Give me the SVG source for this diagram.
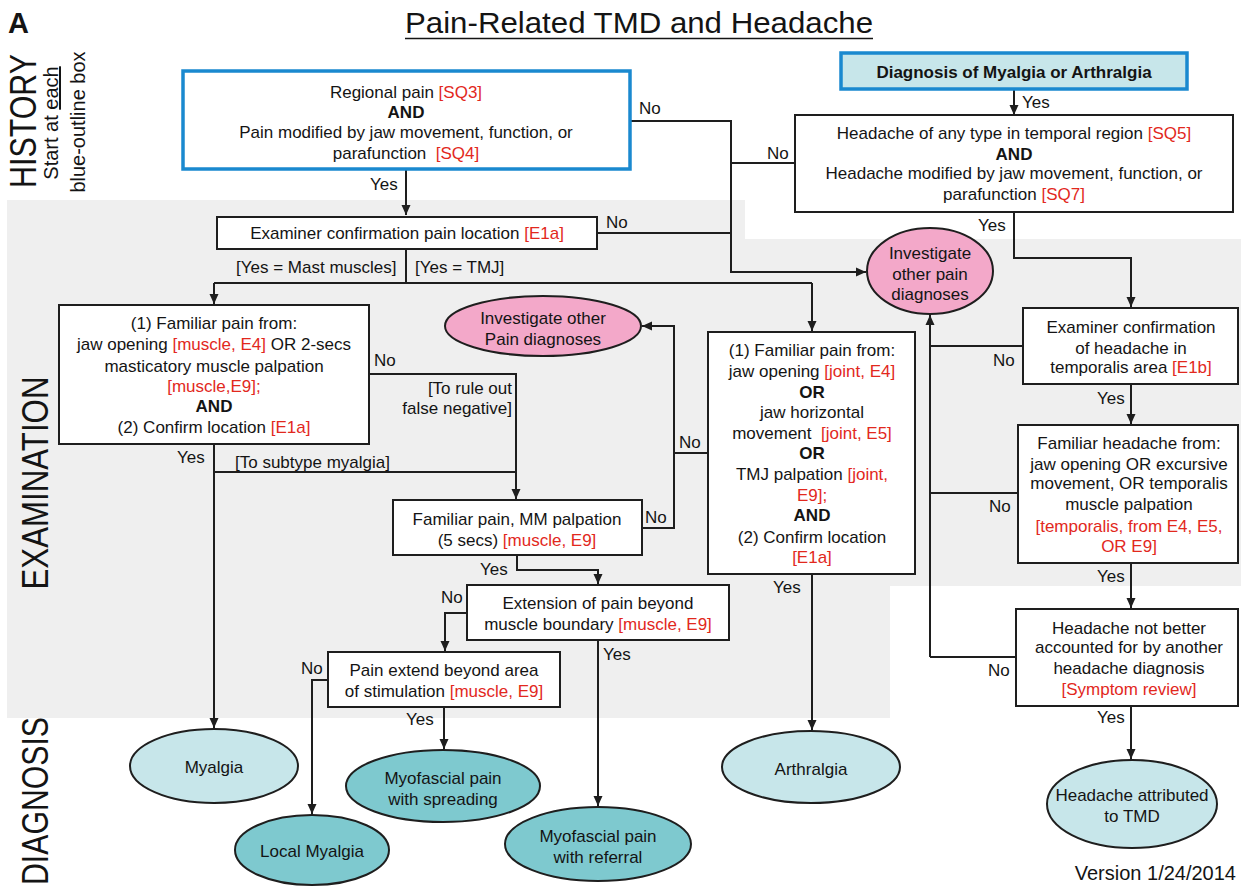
<svg xmlns="http://www.w3.org/2000/svg" width="1241" height="886" viewBox="0 0 1241 886">
<style>
text{font-family:"Liberation Sans",Arial,Helvetica,sans-serif;fill:#141414}
.t{font-size:17px;text-anchor:middle}
.l{font-size:17px}
.r{fill:#e2281d}
.b{font-weight:bold}
.box{fill:#fff;stroke:#1e1e1e;stroke-width:2}
.hb{fill:#fff;stroke:#1a89cf;stroke-width:3.5}
.pink{fill:#f3a8c9;stroke:#1e1e1e;stroke-width:2}
.lb{fill:#c7e6ea;stroke:#1e1e1e;stroke-width:2}
.tl{fill:#7ec9cf;stroke:#1e1e1e;stroke-width:2}
.c{fill:none;stroke:#1e1e1e;stroke-width:2}
.a{marker-end:url(#arr)}
.side{font-size:37px;text-anchor:middle}
.sub{font-size:20px;text-anchor:middle}
</style>
<defs>
<marker id="arr" markerUnits="userSpaceOnUse" markerWidth="11" markerHeight="10" refX="10" refY="5" orient="auto">
<path d="M0,0.5 L10,5 L0,9.5 Z" fill="#1e1e1e"/>
</marker>
</defs>
<rect width="1241" height="886" fill="#fff"/>
<path d="M7 200 H745 V239 H1241 V586 H890 V718 H7 Z" fill="#efefef"/>

<g id="headings">
<text x="8" y="33" font-size="29" font-weight="bold">A</text>
<text x="639" y="33" font-size="30" text-anchor="middle" textLength="468" lengthAdjust="spacingAndGlyphs">Pain-Related TMD and Headache</text>
<line x1="405" y1="38.5" x2="873" y2="38.5" stroke="#141414" stroke-width="1.6"/>
<text class="side" transform="translate(36,121) rotate(-90)" textLength="134" lengthAdjust="spacingAndGlyphs">HISTORY</text>
<text class="sub" transform="translate(58,123) rotate(-90)">Start at <tspan text-decoration="underline">each</tspan></text>
<text class="sub" transform="translate(85,122) rotate(-90)">blue-outline box</text>
<text class="side" transform="translate(48,483) rotate(-90)" textLength="213" lengthAdjust="spacingAndGlyphs">EXAMINATION</text>
<text class="side" transform="translate(48,801) rotate(-90)" textLength="168" lengthAdjust="spacingAndGlyphs">DIAGNOSIS</text>
<text x="1236" y="880" font-size="20" text-anchor="end">Version 1/24/2014</text>
</g>

<g id="connectors">
<path class="c a" d="M406 169 V215"/>
<path class="c a" d="M630 121 H731 V272 H866"/>
<path class="c" d="M597 233 H731"/>
<path class="c" d="M795 163 H731"/>
<path class="c a" d="M1014 89 V115"/>
<path class="c a" d="M1014 212 V258 H1131 V307"/>
<path class="c" d="M406 249 V283 M214 283 H812"/>
<path class="c a" d="M214 283 V304"/>
<path class="c a" d="M812 283 V331"/>
<path class="c a" d="M369 374 H516 V499"/>
<path class="c a" d="M214 444 V728"/>
<path class="c" d="M214 472 H516"/>
<path class="c a" d="M642 528 H674 V326 H642"/>
<path class="c" d="M708 453 H674"/>
<path class="c a" d="M517 555 V570 H598 V584"/>
<path class="c a" d="M467 613 H445 V651"/>
<path class="c a" d="M598 640 V806"/>
<path class="c a" d="M328 680 H312 V814"/>
<path class="c a" d="M444 707 V749"/>
<path class="c a" d="M812 574 V730"/>
<path class="c a" d="M930 657 V315"/>
<path class="c" d="M1023 346 H930 M1018 493 H930 M1016 657 H930"/>
<path class="c a" d="M1131 384 V424"/>
<path class="c a" d="M1131 563 V608"/>
<path class="c a" d="M1131 706 V759"/>
</g>

<g id="edge-labels" class="l">
<text x="370" y="190">Yes</text>
<text x="606" y="228">No</text>
<text x="639" y="114">No</text>
<text x="767" y="159">No</text>
<text x="1022" y="108">Yes</text>
<text x="978" y="231">Yes</text>
<text x="236" y="273">[Yes = Mast muscles]</text>
<text x="415" y="273">[Yes = TMJ]</text>
<text x="374" y="366">No</text>
<text x="512" y="394" text-anchor="end">[To rule out</text>
<text x="512" y="414" text-anchor="end">false negative]</text>
<text x="177" y="463">Yes</text>
<text x="235" y="468">[To subtype myalgia]</text>
<text x="679" y="448">No</text>
<text x="645" y="523">No</text>
<text x="480" y="575">Yes</text>
<text x="441" y="603">No</text>
<text x="603" y="660">Yes</text>
<text x="301" y="674">No</text>
<text x="406" y="725">Yes</text>
<text x="773" y="593">Yes</text>
<text x="993" y="366">No</text>
<text x="989" y="512">No</text>
<text x="988" y="676">No</text>
<text x="1097" y="404">Yes</text>
<text x="1097" y="582">Yes</text>
<text x="1097" y="723">Yes</text>
</g>

<g id="regional-pain">
<rect class="hb" x="183" y="71" width="447" height="98"/>
<text class="t" x="406" y="98">Regional pain <tspan class="r">[SQ3]</tspan></text>
<text class="t b" x="406" y="118">AND</text>
<text class="t" x="406" y="138">Pain modified by jaw movement, function, or</text>
<text class="t" x="406" y="159">parafunction&#160; <tspan class="r">[SQ4]</tspan></text>
</g>

<g id="dx-myalgia-arthralgia">
<rect x="841" y="53" width="346" height="36" fill="#c7e6ea" stroke="#1a89cf" stroke-width="3.5"/>
<text class="t b" x="1014" y="78">Diagnosis of Myalgia or Arthralgia</text>
</g>

<g id="headache-temporal">
<rect class="box" x="795" y="115" width="438" height="97"/>
<text class="t" x="1014" y="139">Headache of any type in temporal region <tspan class="r">[SQ5]</tspan></text>
<text class="t b" x="1014" y="160">AND</text>
<text class="t" x="1014" y="179">Headache modified by jaw movement, function, or</text>
<text class="t" x="1014" y="200">parafunction <tspan class="r">[SQ7]</tspan></text>
</g>

<g id="examiner-location">
<rect class="box" x="217" y="217" width="380" height="32"/>
<text class="t" x="407" y="239">Examiner confirmation pain location <tspan class="r">[E1a]</tspan></text>
</g>

<g id="investigate-right">
<ellipse class="pink" cx="930" cy="271" rx="63" ry="43"/>
<text class="t" x="930" y="259">Investigate</text>
<text class="t" x="930" y="280">other pain</text>
<text class="t" x="930" y="300">diagnoses</text>
</g>

<g id="investigate-left">
<ellipse class="pink" cx="543" cy="326" rx="98" ry="30"/>
<text class="t" x="543" y="324">Investigate other</text>
<text class="t" x="543" y="345">Pain diagnoses</text>
</g>

<g id="familiar-muscle">
<rect class="box" x="59" y="305" width="310" height="139"/>
<text class="t" x="214" y="329">(1) Familiar pain from:</text>
<text class="t" x="214" y="350">jaw opening <tspan class="r">[muscle, E4]</tspan> OR 2-secs</text>
<text class="t" x="214" y="372">masticatory muscle palpation</text>
<text class="t r" x="214" y="392">[muscle,E9];</text>
<text class="t b" x="214" y="412">AND</text>
<text class="t" x="214" y="433">(2) Confirm location <tspan class="r">[E1a]</tspan></text>
</g>

<g id="familiar-joint">
<rect class="box" x="708" y="332" width="207" height="242"/>
<text class="t" x="812" y="356">(1) Familiar pain from:</text>
<text class="t" x="812" y="377">jaw opening <tspan class="r">[joint, E4]</tspan></text>
<text class="t b" x="812" y="398">OR</text>
<text class="t" x="812" y="418">jaw horizontal</text>
<text class="t" x="812" y="439">movement&#160; <tspan class="r">[joint, E5]</tspan></text>
<text class="t b" x="812" y="459">OR</text>
<text class="t" x="812" y="480">TMJ palpation <tspan class="r">[joint,</tspan></text>
<text class="t r" x="812" y="501">E9];</text>
<text class="t b" x="812" y="521">AND</text>
<text class="t" x="812" y="543">(2) Confirm location</text>
<text class="t r" x="812" y="563">[E1a]</text>
</g>

<g id="mm-palpation">
<rect class="box" x="393" y="500" width="249" height="55"/>
<text class="t" x="517" y="525">Familiar pain, MM palpation</text>
<text class="t" x="517" y="546">(5 secs) <tspan class="r">[muscle, E9]</tspan></text>
</g>

<g id="extension-boundary">
<rect class="box" x="467" y="585" width="262" height="55"/>
<text class="t" x="598" y="609">Extension of pain beyond</text>
<text class="t" x="598" y="630">muscle boundary <tspan class="r">[muscle, E9]</tspan></text>
</g>

<g id="pain-extend">
<rect class="box" x="328" y="652" width="232" height="55"/>
<text class="t" x="444" y="676">Pain extend beyond area</text>
<text class="t" x="444" y="697">of stimulation <tspan class="r">[muscle, E9]</tspan></text>
</g>

<g id="examiner-headache">
<rect class="box" x="1023" y="308" width="215" height="76"/>
<text class="t" x="1131" y="333">Examiner confirmation</text>
<text class="t" x="1131" y="354">of headache in</text>
<text class="t" x="1131" y="373">temporalis area <tspan class="r">[E1b]</tspan></text>
</g>

<g id="familiar-headache">
<rect class="box" x="1018" y="425" width="220" height="138"/>
<text class="t" x="1129" y="449">Familiar headache from:</text>
<text class="t" x="1129" y="470">jaw opening OR excursive</text>
<text class="t" x="1129" y="489">movement, OR temporalis</text>
<text class="t" x="1129" y="510">muscle palpation</text>
<text class="t r" x="1129" y="532">[temporalis, from E4, E5,</text>
<text class="t r" x="1129" y="552">OR E9]</text>
</g>

<g id="headache-not-better">
<rect class="box" x="1016" y="609" width="222" height="97"/>
<text class="t" x="1129" y="634">Headache not better</text>
<text class="t" x="1129" y="653">accounted for by another</text>
<text class="t" x="1129" y="674">headache diagnosis</text>
<text class="t r" x="1129" y="695">[Symptom review]</text>
</g>

<g id="myalgia">
<ellipse class="lb" cx="214" cy="766" rx="84" ry="37"/>
<text class="t" x="214" y="773">Myalgia</text>
</g>

<g id="myofascial-spreading">
<ellipse class="tl" cx="443" cy="786" rx="97" ry="36"/>
<text class="t" x="443" y="784">Myofascial pain</text>
<text class="t" x="443" y="805">with spreading</text>
</g>

<g id="local-myalgia">
<ellipse class="tl" cx="312" cy="850" rx="77" ry="35"/>
<text class="t" x="312" y="857">Local Myalgia</text>
</g>

<g id="myofascial-referral">
<ellipse class="tl" cx="598" cy="844" rx="93" ry="37"/>
<text class="t" x="598" y="842">Myofascial pain</text>
<text class="t" x="598" y="863">with referral</text>
</g>

<g id="arthralgia">
<ellipse class="lb" cx="811" cy="767" rx="89" ry="36"/>
<text class="t" x="811" y="775">Arthralgia</text>
</g>

<g id="headache-tmd">
<ellipse class="lb" cx="1132" cy="804" rx="85" ry="44"/>
<text class="t" x="1132" y="801">Headache attributed</text>
<text class="t" x="1132" y="822">to TMD</text>
</g>
</svg>
